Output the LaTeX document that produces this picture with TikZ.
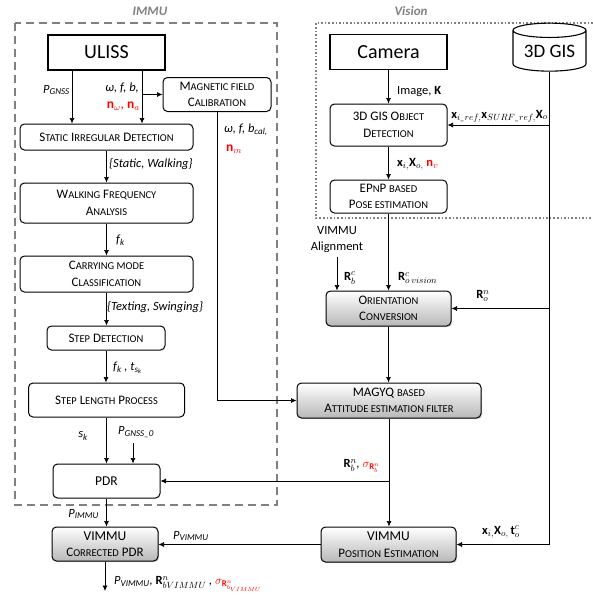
\documentclass[tikz,border=0pt]{standalone}
\usepackage{fontspec}
\usepackage{amsmath,bm}
\setmainfont{Carlito}
\usetikzlibrary{arrows.meta,shapes.geometric,shadows}
\newcommand\fsc[1]{{\fontsize{10.5}{16}\selectfont\MakeUppercase{#1}}}
\newcommand\sbt[1]{\textsubscript{\fontsize{9}{10}\selectfont #1}}
\newcommand\boxfont{\fontsize{13}{16.5}\selectfont}
\newcommand\labfont{\fontsize{12.5}{14}\selectfont\itshape}
\definecolor{framegray}{HTML}{808080}
\tikzset{
  box/.style={draw, line width=1pt, rounded corners=4.5pt, align=center, inner sep=0pt, font=\boxfont},
  sqbox/.style={draw, line width=1.1pt, align=center, inner sep=0pt, font=\fontsize{20}{22}\selectfont},
  gbox/.style={box, top color=white, bottom color=black!28, drop shadow={opacity=0.35, shadow xshift=1.2pt, shadow yshift=-1.2pt}},
  arr/.style={-{Latex[length=5.5pt,width=5pt]}, line width=0.7pt},
  lab/.style={font=\labfont, inner sep=0pt},
  head/.style={font=\fontsize{13}{15}\selectfont\bfseries\itshape, text=framegray}
}
\begin{document}
\begin{tikzpicture}[x=1pt,y=-1pt]
\useasboundingbox (0,0) rectangle (593,597);
% frames
\draw[framegray, line width=2.2pt, dash pattern=on 8pt off 5pt] (15,23) rectangle (277,505);
\draw[framegray, line width=1.6pt, dotted] (600,23) -- (316,23) -- (316,218) -- (600,218);
\node[head] (himmu) at (150,11) {IMMU};
\node[head] (hvis) at (411,11) {Vision};
% IMMU boxes
\node[sqbox, minimum width=117pt, minimum height=35pt] (uliss) at (106.5,52.5) {ULISS};
\node[box, minimum width=108pt, minimum height=34pt] (magcal) at (217,94.5) {M\fsc{agnetic field}\\C\fsc{alibration}};
\node[box, minimum width=173pt, minimum height=26pt] (static) at (106.5,137) {S\fsc{tatic} I\fsc{rregular} D\fsc{etection}};
\node[box, minimum width=173pt, minimum height=40pt] (walk) at (106.5,203) {W\fsc{alking} F\fsc{requency}\\A\fsc{nalysis}};
\node[box, minimum width=173pt, minimum height=36pt] (carry) at (106.5,274) {C\fsc{arrying mode}\\C\fsc{lassification}};
\node[box, minimum width=118pt, minimum height=24pt] (stepdet) at (106,338) {S\fsc{tep} D\fsc{etection}};
\node[box, minimum width=156pt, minimum height=34pt] (steplen) at (106.5,400) {S\fsc{tep} L\fsc{ength} P\fsc{rocess}};
\node[box, minimum width=107pt, minimum height=34pt, font=\fontsize{13.5}{16}\selectfont] (pdr) at (106.5,481) {PDR};
\node[gbox, minimum width=106pt, minimum height=34pt] (vcpdr) at (105,544) {{\fontsize{13.5}{16}\selectfont VIMMU}\\C\fsc{orrected} PDR};
% Vision boxes
\node[sqbox, minimum width=117pt, minimum height=35pt] (camera) at (388.5,52) {Camera};
\node[cylinder, shape border rotate=90, draw, line width=1.1pt, aspect=0.28, minimum width=73pt, minimum height=48pt, inner sep=0pt, font=\fontsize{19}{22}\selectfont] (gis) at (549.5,51) {3D GIS};
\node[box, minimum width=117pt, minimum height=42pt] (gisobj) at (388.5,125) {3D GIS O\fsc{bject}\\D\fsc{etection}};
\node[box, minimum width=117pt, minimum height=33pt] (epnp) at (388.5,196.5) {EP\fsc{n}P \fsc{based}\\P\fsc{ose estimation}};
\node[gbox, minimum width=125pt, minimum height=35pt] (orient) at (388.5,308.5) {O\fsc{rientation}\\C\fsc{onversion}};
\node[gbox, minimum width=184pt, minimum height=35pt] (magyq) at (389,400.5) {MAGYQ \fsc{based}\\A\fsc{ttitude estimation filter}};
\node[gbox, minimum width=135pt, minimum height=35pt] (vpos) at (388.5,544.5) {{\fontsize{13.5}{16}\selectfont VIMMU}\\P\fsc{osition} E\fsc{stimation}};
\node[align=center, font=\fontsize{12.5}{16}\selectfont, inner sep=1pt] (align) at (337,240) {VIMMU\\Alignment};
% lane coordinates
\coordinate (xa) at (72,0);
\coordinate (xb) at (142,0);
\coordinate (g0) at (133,443);
\coordinate (out) at (105,591);
% IMMU connectors
\draw[arr] (uliss.south -| xa) -- (static.north -| xa);
\draw[arr] (uliss.south -| xb) -- (static.north -| xb);
\draw[arr] (xb |- magcal.west) -- (magcal.west);
\draw[arr] (magcal.south) |- (magyq.west);
\draw[arr] (static.south) -- (walk.north);
\draw[arr] (walk.south) -- (carry.north);
\draw[arr] (carry.south) -- (carry.south |- stepdet.north);
\draw[arr] (stepdet.south) -- (stepdet.south |- steplen.north);
\draw[arr] (steplen.south) -- (pdr.north);
\draw[arr] (g0) -- (g0 |- pdr.north);
\draw[arr] (pdr.south) -- (pdr.south |- vcpdr.north);
\draw[arr] (vcpdr.south) -- (out);
% Vision connectors
\draw[arr] (camera.south) -- (gisobj.north);
\draw[arr] (gisobj.south) -- (epnp.north);
\draw[arr] (epnp.south) -- (orient.north);
\draw[arr] ([yshift=-3pt]align.south) -- (align.south |- orient.north);
\draw[arr] (gis.south) |- (gisobj.east);
\draw[arr] (gis.south) |- (orient.east);
\draw[arr] (gis.south) |- (vpos.east);
\draw[arr] (orient.south) -- (orient.south |- magyq.north);
\draw[arr] (magyq.south) -- (magyq.south |- vpos.north);
\draw[arr] (magyq.south |- pdr.east) -- (pdr.east);
\draw[arr] (vpos.west) -- (vpos.west -| vcpdr.east);
% labels
\node[lab, anchor=east] (lpg) at (70,90) {P\sbt{GNSS}};
\node[lab, anchor=east] (lwfb) at (139,88) {ω, f, b,};
\node[lab, anchor=east, text=red, font=\fontsize{13.5}{14}\selectfont] (lnwa) at (140,106) {$\mathbf{n}_{\omega}$, $\mathbf{n}_{a}$};
\node[lab, anchor=west] (lcal) at (224,130) {ω, f, b\sbt{cal,}};
\node[lab, anchor=west, text=red, font=\fontsize{13.5}{14}\selectfont] (lnm) at (226,149) {$\mathbf{n}_{m}$};
\node[lab, anchor=west] (lsw) at (109,164) {\{Static, Walking\}};
\node[lab, anchor=west] (lfk) at (116,240) {f\sbt{k}};
\node[lab, anchor=west] (lts) at (107,307) {\{Texting, Swinging\}};
\node[lab, anchor=west] (lfkt) at (113,368) {f\sbt{k} , t\sbt{s\textsubscript{\fontsize{6.5}{7}\selectfont k}}};
\node[lab] (lsk) at (83,436) {s\sbt{k}};
\node[lab] (lpg0) at (136,432) {P\sbt{GNSS\_0}};
\node[lab, anchor=east] (lpi) at (99,514) {P\sbt{IMMU}};
\node[lab, anchor=west] (lpv) at (173,536) {P\sbt{VIMMU}};
\node[lab, anchor=west] (lout) at (114,584) {P\sbt{VIMMU}, $\mathbf{R}^{n}_{bVIMMU}$ , \textcolor{red}{$\sigma_{\mathbf{R}^{n}_{b_{VIMMU}}}$}};
\node[lab, anchor=west, font=\fontsize{12.5}{14}\selectfont] (limg) at (397,92) {Image, $\mathbf{K}$};
\node[lab, anchor=east] (lxref) at (548,116) {$\mathbf{x}_{i\_ref,}\mathbf{x}_{SURF\_ref,}\mathbf{X}_{o}$};
\node[lab, anchor=west] (lxin) at (397,164) {$\mathbf{x}_{i,}\mathbf{X}_{o,}$ \textcolor{red}{$\mathbf{n}_{v}$}};
\node[lab, anchor=west] (lrcb) at (344,278) {$\mathbf{R}^{c}_{b}$};
\node[lab, anchor=west] (lrco) at (398,278) {$\mathbf{R}^{c}_{o\,vision}$};
\node[lab] (lrno) at (483,296) {$\mathbf{R}^{n}_{o}$};
\node[lab, anchor=east] (lrnb) at (380,466) {$\mathbf{R}^{n}_{b}$, \textcolor{red}{$\sigma_{\mathbf{R}^{n}_{b}}$}};
\node[lab, anchor=west] (lxto) at (482,532) {$\mathbf{x}_{i,}\mathbf{X}_{o,}\,\mathbf{t}^{c}_{o}$};
\end{tikzpicture}
\end{document}
